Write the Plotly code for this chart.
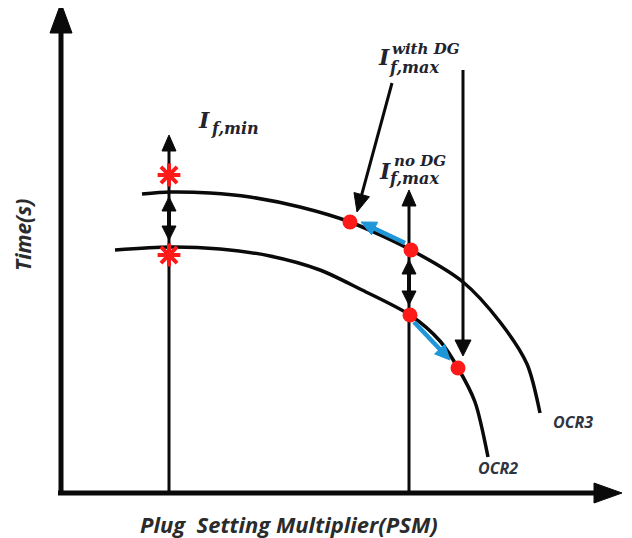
import math
import plotly.graph_objects as go

# ---- data (schematic coordinates: x to the right, y downward) ----
ocr3_x = [142, 170, 210, 250, 300, 350, 411, 463, 500, 527, 540]
ocr3_y = [194, 192, 193, 197, 207, 222, 250, 282, 322, 364, 413]
ocr2_x = [115, 170, 220, 270, 320, 360, 410, 440, 458, 475, 488]
ocr2_y = [250, 247, 249, 256, 270, 289, 315, 341, 368, 402, 457]
fault_x = [350, 411, 410, 458]
fault_y = [222, 250, 315, 368]
star_x = [169, 169]
star_y = [175, 255]

BLACK = "#0a0a0a"
RED = "#ff1a1a"
BLUE = "#1e96d8"
TXT = "#23232e"

fig = go.Figure()


def line(x0, y0, x1, y1, w, color):
    fig.add_trace(go.Scatter(x=[x0, x1], y=[y0, y1], mode="lines",
                             line=dict(color=color, width=w), hoverinfo="skip"))


def head(tx, ty, sx, sy, L, W, color):
    dx, dy = tx - sx, ty - sy
    n = math.hypot(dx, dy)
    ux, uy = dx / n, dy / n
    bx, by = tx - ux * L, ty - uy * L
    px, py = -uy, ux
    fig.add_trace(go.Scatter(
        x=[tx, bx + px * W, bx - px * W, tx],
        y=[ty, by + py * W, by - py * W, ty],
        mode="lines", fill="toself", fillcolor=color,
        line=dict(color=color, width=1), hoverinfo="skip"))


def arrow(x0, y0, x1, y1, w, L, W, color, both=False):
    dx, dy = x1 - x0, y1 - y0
    n = math.hypot(dx, dy)
    ux, uy = dx / n, dy / n
    sx0, sy0 = (x0 + ux * L * 0.8, y0 + uy * L * 0.8) if both else (x0, y0)
    line(sx0, sy0, x1 - ux * L * 0.8, y1 - uy * L * 0.8, w, color)
    head(x1, y1, x0, y0, L, W, color)
    if both:
        head(x0, y0, x1, y1, L, W, color)


# axes
arrow(61, 494, 61, 3, 5, 30, 11, BLACK)
arrow(58, 493, 622, 493, 5, 28, 10, BLACK)

# curves
fig.add_trace(go.Scatter(x=ocr3_x, y=ocr3_y, mode="lines",
                         line=dict(color=BLACK, width=3.5, shape="spline", smoothing=0.8),
                         hoverinfo="skip"))
fig.add_trace(go.Scatter(x=ocr2_x, y=ocr2_y, mode="lines",
                         line=dict(color=BLACK, width=3.5, shape="spline", smoothing=0.8),
                         hoverinfo="skip"))

# vertical lines with arrows
arrow(169, 493, 169, 135, 3, 16, 7, BLACK)
arrow(409, 493, 409, 190, 3, 16, 7, BLACK)
arrow(169, 197, 169, 240, 4, 14, 7, BLACK, both=True)
arrow(409, 260, 409, 305, 4, 14, 7, BLACK, both=True)
arrow(463, 70, 463, 356, 3, 16, 8, BLACK)
arrow(392, 83, 357, 212, 3, 18, 8, BLACK)

# blue shift arrows
arrow(405, 243, 361, 222, 4.5, 15, 7, BLUE)
arrow(414, 322, 450, 360, 4.5, 15, 7, BLUE)

# markers
fig.add_trace(go.Scatter(x=fault_x, y=fault_y, mode="markers",
                         marker=dict(color=RED, size=15, line=dict(width=0)), hoverinfo="skip"))
fig.add_trace(go.Scatter(x=star_x, y=star_y, mode="markers",
                         marker=dict(symbol="asterisk-open", color=RED, size=19,
                                     line=dict(color=RED, width=4)), hoverinfo="skip"))


def txt(x, y, s, size, family="DejaVu Serif", color=TXT, angle=0, xanchor="center"):
    fig.add_annotation(x=x, y=y, xref="x", yref="y", text="<b><i>" + s + "</i></b>",
                       showarrow=False, textangle=angle, xanchor=xanchor, yanchor="middle",
                       font=dict(family=family, size=size, color=color))


# current labels
txt(204, 120, "I", 22)
txt(209, 128, "f,min", 16, xanchor="left")
txt(384, 57, "I", 22)
txt(390, 49, "with DG", 15, xanchor="left")
txt(387, 67, "f,max", 16, xanchor="left")
txt(385, 171, "I", 22)
txt(392, 161, "no DG", 15, xanchor="left")
txt(387, 178, "f,max", 16, xanchor="left")

# curve labels
txt(573, 422, "OCR3", 16, family="Open Sans", color="#2e3440")
txt(498, 468, "OCR2", 16, family="Open Sans", color="#2e3440")

# axis titles
txt(23, 235, "Time(s)", 21, family="Open Sans", color="#2b2b2b", angle=-90)
txt(138, 524, "Plug  Setting Multiplier(PSM)", 22, family="Open Sans", color="#2b2b2b",
    xanchor="left")

# the page body adds an 8 px margin; the ranges start at 8 so schematic units equal page pixels
fig.update_layout(
    width=624, height=530, margin=dict(l=0, r=0, t=0, b=0),
    paper_bgcolor="white", plot_bgcolor="white", showlegend=False,
    xaxis=dict(range=[8, 632], visible=False, fixedrange=True),
    yaxis=dict(range=[538, 8], visible=False, fixedrange=True),
)
fig.write_html("out.html")
